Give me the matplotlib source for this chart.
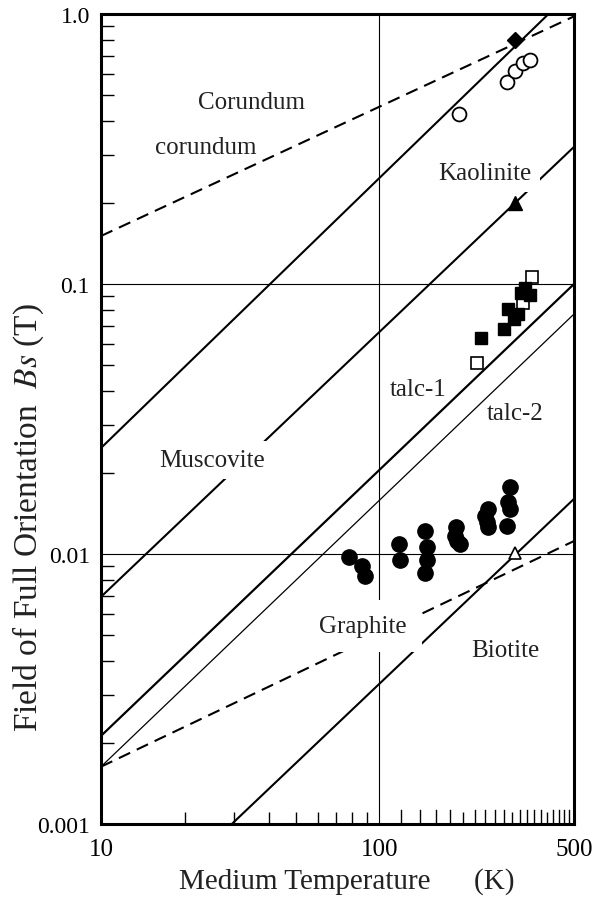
import matplotlib
matplotlib.use("Agg")
import matplotlib.pyplot as plt
import numpy as np

plt.rcParams["font.family"] = ["Liberation Serif", "DejaVu Serif"]
plt.rcParams["mathtext.fontset"] = "stix"

# measured points (T in K, Bs in T)
corundum_T = [193, 287, 307, 328, 347]
corundum_B = [0.426, 0.560, 0.615, 0.659, 0.675]
diamond_T = [307]
diamond_B = [0.80]
kaolinite_T = [307]
kaolinite_B = [0.20]
biotite_T = [307]
biotite_B = [0.0101]
talc1_T = [232, 280, 290, 304, 315, 323, 334, 348]
talc1_B = [0.0631, 0.0681, 0.0808, 0.0742, 0.0774, 0.0926, 0.0966, 0.091]
talc2_T = [224, 328, 353]
talc2_B = [0.051, 0.085, 0.106]
graphite_T = [77.8, 86.6, 88.8, 117.6, 118.6, 145.8, 148.2, 148.2, 145.8,
              188.4, 186.9, 190, 194.8, 245.5, 239.5, 243.5, 245.5,
              294.5, 289.7, 294.5, 287.3]
graphite_B = [0.00975, 0.00903, 0.00829, 0.01089, 0.0095, 0.01217, 0.01062,
              0.0095, 0.0085, 0.01259, 0.01166, 0.01117, 0.01089, 0.01468,
              0.01383, 0.01314, 0.01259, 0.0177, 0.01558, 0.01468, 0.0127]

# boundary lines, end points (T, B)
lineA_T, lineA_B = [10, 405], [0.0247, 1.0]
lineB_T, lineB_B = [10, 500], [0.00694, 0.322]
talc1_line_T, talc1_line_B = [10, 500], [0.00212, 0.1]
talc2_line_T, talc2_line_B = [10, 500], [0.00163, 0.0774]
lineD_T, lineD_B = [29.5, 500], [0.001, 0.016]
dash_up_T, dash_up_B = [10, 500], [0.1506, 0.98]
dash_lo_T, dash_lo_B = [10, 500], [0.00163, 0.01117]

fig = plt.figure(figsize=(6.06, 9.04), dpi=100)
ax = fig.add_axes([101 / 606, 79 / 904, 473 / 606, 810 / 904])
ax.set_xscale("log")
ax.set_yscale("log")
ax.set_xlim(10, 500)
ax.set_ylim(0.001, 1.0)

# grid lines
ax.axvline(100, color="black", lw=0.8, zorder=1)
for yv in [0.1, 0.01]:
    ax.axhline(yv, color="black", lw=0.8, zorder=1)

# lines
for T, B, lw in [(lineA_T, lineA_B, 1.5), (lineB_T, lineB_B, 1.5),
                 (talc1_line_T, talc1_line_B, 1.6), (talc2_line_T, talc2_line_B, 0.9),
                 (lineD_T, lineD_B, 1.5)]:
    ax.plot(T, B, color="black", lw=lw, zorder=2, solid_capstyle="butt")
for T, B in [(dash_up_T, dash_up_B), (dash_lo_T, dash_lo_B)]:
    ax.plot(T, B, color="black", lw=1.5, ls=(0, (6, 3.5)), zorder=2)

# markers
ax.plot(corundum_T, corundum_B, "o", ms=10, mfc="white", mec="black", mew=1.3, zorder=4)
ax.plot(diamond_T, diamond_B, "D", ms=8, color="black", zorder=4)
ax.plot(kaolinite_T, kaolinite_B, "^", ms=10, color="black", zorder=4)
ax.plot(biotite_T, biotite_B, "^", ms=9, mfc="white", mec="black", mew=1.2, zorder=4)
ax.plot(talc2_T, talc2_B, "s", ms=8, mfc="white", mec="black", mew=1.2, zorder=4)
ax.plot(talc1_T, talc1_B, "s", ms=9, color="black", zorder=5)
ax.plot(graphite_T, graphite_B, "o", ms=11, color="black", zorder=4)

# region labels
box = dict(facecolor="white", edgecolor="none", pad=6)
labels = [
    ("Corundum", 0.319, 0.884, None),
    ("corundum", 0.222, 0.828, None),
    ("Kaolinite", 0.812, 0.796, box),
    ("Muscovite", 0.235, 0.442, box),
    ("talc-1", 0.670, 0.530, None),
    ("talc-2", 0.875, 0.500, None),
    ("Graphite", 0.554, 0.237, dict(facecolor="white", edgecolor="none", pad=11)),
    ("Biotite", 0.854, 0.207, None),
]
for txt, xf, yf, bb in labels:
    ax.text(xf, yf, txt, transform=ax.transAxes, ha="center", va="baseline",
            fontsize=18, color="#222222", bbox=bb, zorder=3)

# axes styling
for s in ax.spines.values():
    s.set_linewidth(2.2)
ax.set_xticks([10, 100, 500])
ax.set_xticklabels(["10", "100", "500"])
ax.set_yticks([0.001, 0.01, 0.1, 1.0])
ax.set_yticklabels(["0.001", "0.01", "0.1", "1.0"])
ax.set_yticks([m * d for d in [0.001, 0.01, 0.1] for m in range(2, 10)], minor=True)
x_minor = [20, 30, 40, 50, 60, 70, 80, 90, 200, 300, 400]
x_small = [120, 140, 160, 180, 220, 240, 260, 280, 320, 340, 360, 380, 420, 440, 460, 480]
ax.set_xticks(x_minor, minor=True)
ax.xaxis.set_minor_formatter(matplotlib.ticker.NullFormatter())
ax.yaxis.set_minor_formatter(matplotlib.ticker.NullFormatter())
ax.tick_params(which="both", direction="in", top=False, right=False,
               length=9, width=1.0, color="black")
ax.tick_params(axis="x", which="major", length=0, labelsize=18, pad=10)
ax.tick_params(axis="y", which="major", length=0, labelsize=17, pad=8)
for xs in x_small:
    ax.plot([xs, xs], [0.001, 0.00113], color="black", lw=1.0, zorder=1, clip_on=False)

fig.text(347 / 606, 1 - 882 / 904, "Medium Temperature      (K)", ha="center",
         va="center", fontsize=21, color="#222222")
fig.text(28 / 606, 1 - 518 / 904, "Field of Full Orientation  $\\mathit{Bs}$ (T)",
         ha="center", va="center", rotation=90, fontsize=24, color="#222222")

fig.savefig("out.png", dpi=100)
